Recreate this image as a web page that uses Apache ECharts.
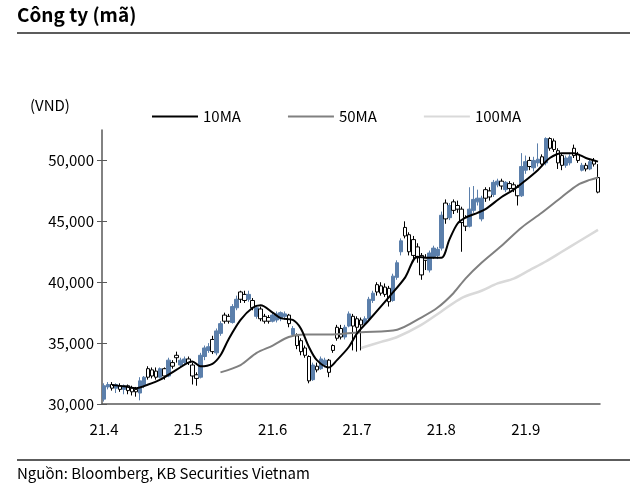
<!DOCTYPE html>
<html>
<head>
<meta charset="utf-8">
<script src="https://cdn.jsdelivr.net/npm/echarts@6/dist/echarts.min.js"></script>
<style>
html,body{margin:0;padding:0;background:#fff;}
#chart{width:640px;height:491px;}
</style>
</head>
<body>
<div id="chart"></div>
<script>
// Trading days (2021)
const daysApr = [1,2,5,6,7,8,9,12,13,14,15,16,19,20,22,23,26,27,28,29];
const daysMay = [4,5,6,7,10,11,12,13,14,17,18,19,20,21,24,25,26,27,28,31];
const daysJun = [1,2,3,4,7,8,9,10,11,14,15,16,17,18,21,22,23,24,25,28,29,30];
const daysJul = [1,2,5,6,7,8,9,12,13,14,15,16,19,20,21,22,23,26,27,28,29,30];
const daysAug = [2,3,4,5,6,9,10,11,12,13,16,17,18,19,20,23,24,25,26,27,30,31];
const daysSep = [1,6,7,8,9,10,13,14,15,16,17,20,21,22,23,24,27,28];

const tickLabels = ['21.4','21.5','21.6','21.7','21.8','21.9'];
const yTicks = [30000,35000,40000,45000,50000];

const opens = [30400,31400,31600,31300,31500,31200,31500,31300,31200,30900,
31500,32900,32800,32700,32200,32900,32300,33400,34000,33200,
33400,33700,33200,32400,32200,33900,34400,35300,34200,35800,
37300,37200,36700,37900,39200,39000,38600,38500,37200,37800,
37200,37100,36800,36900,37000,37200,37300,35700,35600,35200,
34600,33900,32000,33100,32900,33200,33600,34800,36300,36200,
35500,36400,37200,37000,36900,36600,37000,38500,39800,39700,
39600,39500,38500,40400,42500,44500,43900,43500,42900,42200,
42000,41000,42100,42200,42800,46500,45300,46600,46300,46000,
45300,44600,45900,46600,45200,47600,47500,47200,48000,48300,
47600,48100,48000,47800,47100,49200,50000,49400,49800,50300,
49800,51800,51600,50800,50400,49600,49800,51000,50500,49200,
49600,49300,50000,48600];
const closes = [31500,31600,31300,31600,31200,31500,31100,31000,31000,31900,
32200,32200,32300,32200,32900,32300,33600,33100,33800,33600,
33700,33400,32300,32100,34000,34600,34700,34300,36000,36600,
36800,36800,38000,38600,38600,38500,39000,37900,37900,37000,
36800,36800,37300,37400,37500,37400,36600,36200,34800,34300,
34000,31900,33200,32800,33700,33600,32600,34400,35400,35500,
36300,37400,36400,36300,36500,37000,38600,39100,39200,39100,
39000,38400,40500,41600,43400,43800,42500,42200,42000,40600,
41800,42400,42800,42700,45500,45200,46300,45900,46000,44900,
44600,46000,46800,46900,46900,46900,47000,48200,48300,47900,
48200,47700,47700,47100,49500,49900,49500,50000,50100,49700,
51800,51000,50900,49800,49600,50200,50300,50400,50000,49600,
49300,49900,49700,47400];
const lows = [30200,31200,31100,30900,31000,30800,30800,30700,30600,30300,
31300,32000,32100,32000,32100,32000,32200,32900,33400,33000,
33200,33200,31600,31500,32100,33600,34200,34100,34000,35600,
36600,36600,36600,37700,38300,38300,38400,37700,37000,36800,
36600,36600,36700,36700,36800,36900,36300,35500,34500,34000,
33800,31700,31900,32600,32800,33000,32200,34200,35200,35300,
35300,36300,34400,34300,34400,36400,36900,38300,38900,38900,
38800,38000,38400,40200,42200,43600,42200,41800,41600,40200,
41000,40800,41900,41900,42600,44800,45100,45600,45700,42500,
44200,44500,45700,46300,45000,46600,46700,47000,47800,47600,
47400,47500,47400,46300,47000,48900,49200,49100,49500,49500,
49600,50800,50700,49300,49200,49400,49600,50200,49800,49100,
49100,49200,49500,47300];
const highs = [31700,31800,31800,31700,31700,31600,31600,31500,31400,32200,
32300,33100,33000,33000,33000,33000,33800,33600,34300,33800,
33900,33900,33400,32600,34200,34800,35000,35600,36200,36800,
37500,37400,38200,38900,39300,39300,39300,38700,38100,38000,
37400,37300,37500,37600,37600,37600,37400,36400,35800,35400,
34800,34000,33400,33400,33900,33800,33700,34900,36500,36500,
36500,37600,37400,37200,37100,37200,38800,39300,40000,40000,
39900,39700,40700,41800,43600,45000,44100,43800,43200,42400,
42300,42600,43000,42900,45800,46800,46500,46800,46700,46200,
45500,47800,47900,47600,47100,47800,47800,48400,48500,48500,
48300,48300,48200,48000,50600,50400,50300,50300,51400,50500,
51900,51900,51800,51000,50600,50400,50500,51300,50700,49800,
49800,50100,50200,49700];

// Moving averages: [trading-day index, value]
const ma10 = [[2,31550],[5,31450],[8,31300],[11,31600],[14,32000],[18,32800],[22,33500],[24,33100],[27,33300],[29,34000],[31,35300],[34,36900],[37,37900],[39,38100],[42,37500],[44,37050],[47,36900],[49,36200],[51,34700],[53,33600],[56,33000],[58,33600],[61,34700],[63,35800],[66,36900],[71,38800],[75,40400],[78,42100],[81,42000],[84,42000],[86,43500],[88,44800],[90,45300],[93,45700],[95,46000],[99,47000],[102,47600],[104,48100],[108,49200],[111,50200],[114,50600],[117,50600],[120,50200],[123,49900]];
const ma50 = [[29,32600],[34,33200],[38,34200],[42,34800],[46,35500],[50,35700],[55,35700],[59,35750],[64,35900],[73,36100],[79,37100],[83,37900],[87,39100],[90,40300],[94,41600],[99,43000],[104,44500],[109,45700],[114,47000],[118,48000],[121,48400],[123,48600]];
const ma100 = [[64,34600],[69,35100],[73,35500],[79,36500],[84,37600],[89,38700],[94,39300],[98,39900],[102,40300],[106,41000],[110,41700],[114,42500],[118,43300],[123,44300]];

function pad(d){return d<10?'0'+d:''+d;}
const categories = [].concat(
  daysApr.map(d=>'2021-04-'+pad(d)),
  daysMay.map(d=>'2021-05-'+pad(d)),
  daysJun.map(d=>'2021-06-'+pad(d)),
  daysJul.map(d=>'2021-07-'+pad(d)),
  daysAug.map(d=>'2021-08-'+pad(d)),
  daysSep.map(d=>'2021-09-'+pad(d))
);
const ohlc = opens.map((o,i)=>[o, closes[i], lows[i], highs[i]]);

const FONT = '"Noto Sans CJK KR", "Noto Sans", sans-serif';
const STEP = 21;

const chart = echarts.init(document.getElementById('chart'), null, {renderer:'canvas'});
chart.setOption({
  animation:false,
  backgroundColor:'#fff',
  textStyle:{fontFamily:FONT},
  grid:{left:102, right:40, top:130, bottom:87, outerBoundsMode:'none'},
  legend:{
    data:['10MA','50MA','100MA'],
    left:147, top:104,
    icon:'rect', itemWidth:46, itemHeight:2, itemGap:47,
    textStyle:{fontFamily:FONT, fontSize:15, color:'#000'}
  },
  xAxis:{
    type:'category', data:categories, boundaryGap:true,
    axisLine:{lineStyle:{color:'#595959', width:1.5}},
    axisTick:{inside:true, length:5, interval:(i)=>i%STEP===0 && i>0, lineStyle:{color:'#595959'}},
    axisLabel:{
      interval:(i)=>i%STEP===0,
      formatter:(v,i)=>tickLabels[Math.round(i/STEP)] || '',
      fontFamily:FONT, fontSize:15, color:'#000', margin:18
    },
    splitLine:{show:false}
  },
  yAxis:[{
    type:'value', min:30000, max:52500, interval:5000,
    axisLine:{show:true, lineStyle:{color:'#595959', width:1.5}},
    axisTick:{show:true, length:5, customValues:yTicks, lineStyle:{color:'#595959'}},
    axisLabel:{customValues:yTicks, formatter:(v)=>v.toLocaleString('en-US'), fontFamily:FONT, fontSize:15, color:'#000', margin:8},
    splitLine:{show:false}
  },{
    type:'value', min:30000, max:52500, interval:5000, position:'left',
    axisLine:{show:false},
    axisTick:{show:true, inside:true, length:5, customValues:yTicks, lineStyle:{color:'#595959'}},
    axisLabel:{show:false},
    splitLine:{show:false}
  }],
  series:[{
    type:'candlestick', name:'Price', data:ohlc, barWidth:4,
    itemStyle:{color:'#5b7fab', borderColor:'#5b7fab', color0:'#ffffff', borderColor0:'#000000', borderWidth:1}
  },{
    type:'line', name:'100MA', data:ma100, smooth:0.3, symbol:'none', color:'#d9d9d9',
    lineStyle:{color:'#d9d9d9', width:2.5}, z:3
  },{
    type:'line', name:'50MA', data:ma50, smooth:0.3, symbol:'none', color:'#808080',
    lineStyle:{color:'#808080', width:2}, z:4
  },{
    type:'line', name:'10MA', data:ma10, smooth:0.3, symbol:'none', color:'#000000',
    lineStyle:{color:'#000000', width:2}, z:5
  }],
  graphic:[
    {type:'text', left:17, top:5, style:{text:'Công ty (mã)', font:'bold 19px '+FONT, fill:'#000'}},
    {type:'line', shape:{x1:17,y1:33,x2:630,y2:33}, style:{stroke:'#262626', lineWidth:1.5}},
    {type:'text', left:30, top:98, style:{text:'(VND)', font:'15px '+FONT, fill:'#000'}},
    {type:'line', shape:{x1:17,y1:460,x2:630,y2:460}, style:{stroke:'#262626', lineWidth:1.5}},
    {type:'text', left:17, top:466, style:{text:'Nguồn: Bloomberg, KB Securities Vietnam', font:'15px '+FONT, fill:'#000'}}
  ]
});
</script>
</body>
</html>
